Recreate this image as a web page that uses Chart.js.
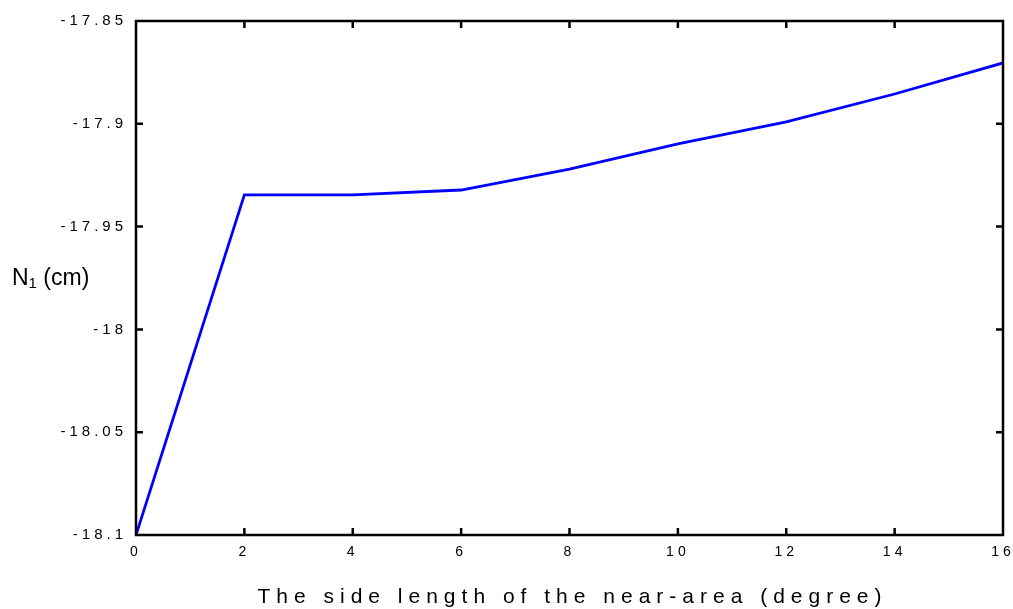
<!DOCTYPE html>
<html>
<head>
<meta charset="utf-8">
<script src="https://cdn.jsdelivr.net/npm/chart.js@4"></script>
<style>
  html, body { margin: 0; padding: 0; background: #fff; }
  #wrap { width: 1013px; height: 609px; position: relative; }
</style>
</head>
<body>
<div id="wrap"><canvas id="nearChart"></canvas></div>
<script>
// side length of the near-area (degree) and N1 (cm)
var sideLength = [0, 2, 4, 6, 8, 10, 12, 14, 16];
var n1Values = [-18.1, -17.9346, -17.9346, -17.9322, -17.922, -17.9098, -17.8991, -17.8855, -17.8704];
var xTicks = [0, 2, 4, 6, 8, 10, 12, 14, 16];
var yTicks = [-18.1, -18.05, -18, -17.95, -17.9, -17.85];

var points = sideLength.map(function (x, i) { return { x: x, y: n1Values[i] }; });

// box around the plot with inward tick marks on every side, plus axis titles
var framePlugin = {
    id: 'frame',
    beforeDraw: function (chart) {
        chart.ctx.letterSpacing = '4px';
    },
    afterDraw: function (chart) {
        var ctx = chart.ctx, a = chart.chartArea;
        var xs = chart.scales.x, ys = chart.scales.y;
        ctx.save();
        ctx.strokeStyle = '#000';
        ctx.lineWidth = 2.5;
        ctx.strokeRect(a.left, a.top, a.right - a.left, a.bottom - a.top);
        ctx.beginPath();
        xTicks.slice(1, -1).forEach(function (v) {
            var px = xs.getPixelForValue(v);
            ctx.moveTo(px, a.bottom); ctx.lineTo(px, a.bottom - 7);
            ctx.moveTo(px, a.top); ctx.lineTo(px, a.top + 7);
        });
        yTicks.slice(1, -1).forEach(function (v) {
            var py = ys.getPixelForValue(v);
            ctx.moveTo(a.left, py); ctx.lineTo(a.left + 7, py);
            ctx.moveTo(a.right, py); ctx.lineTo(a.right - 7, py);
        });
        ctx.stroke();

        ctx.fillStyle = '#000';
        ctx.textBaseline = 'middle';
        ctx.textAlign = 'center';
        ctx.font = '21px "Liberation Sans", Arial, sans-serif';
        ctx.letterSpacing = '6px';
        ctx.fillText('The side length of the near-area (degree)', (a.left + a.right) / 2 + 3, 597);

        ctx.letterSpacing = '0px';
        ctx.textAlign = 'left';
        var x = 12, y = 279;
        ctx.font = '23px "Liberation Sans", Arial, sans-serif';
        ctx.fillText('N', x, y);
        x += ctx.measureText('N').width;
        ctx.font = '15px "Liberation Sans", Arial, sans-serif';
        ctx.fillText('1', x, y + 5);
        x += ctx.measureText('1').width;
        ctx.font = '23px "Liberation Sans", Arial, sans-serif';
        ctx.fillText(' (cm)', x, y);
        ctx.restore();
    }
};

var ctx = document.getElementById('nearChart').getContext('2d');
var chart = new Chart(ctx, {
    type: 'line',
    data: {
        datasets: [{
            label: 'N1',
            data: points,
            borderColor: '#0000ff',
            borderWidth: 2.8,
            pointRadius: 0,
            tension: 0,
            fill: false
        }]
    },
    options: {
        responsive: true,
        maintainAspectRatio: false,
        animation: false,
        layout: { padding: { top: 21, right: 10, left: 0, bottom: 0 } },
        plugins: { legend: { display: false }, tooltip: { enabled: false } },
        scales: {
            x: {
                type: 'linear',
                min: 0,
                max: 16,
                afterBuildTicks: function (scale) {
                    scale.ticks = xTicks.map(function (v) { return { value: v }; });
                },
                afterFit: function (scale) {
                    scale.height = 74;
                    scale.paddingLeft = 0;
                    scale.paddingRight = 0;
                },
                grid: { display: false, drawTicks: false },
                border: { display: false },
                ticks: {
                    color: '#000',
                    padding: 9,
                    maxRotation: 0,
                    font: { family: '"Liberation Sans", Arial, sans-serif', size: 14 }
                }
            },
            y: {
                min: -18.1,
                max: -17.85,
                afterBuildTicks: function (scale) {
                    scale.ticks = yTicks.map(function (v) { return { value: v }; });
                },
                afterFit: function (scale) {
                    scale.width = 136;
                    scale.paddingTop = 0;
                    scale.paddingBottom = 0;
                },
                grid: { display: false, drawTicks: false },
                border: { display: false },
                ticks: {
                    color: '#000',
                    padding: 9,
                    font: { family: '"Liberation Sans", Arial, sans-serif', size: 15 },
                    callback: function (v) { return String(+v.toFixed(2)); }
                }
            }
        }
    },
    plugins: [framePlugin]
});
</script>
</body>
</html>
